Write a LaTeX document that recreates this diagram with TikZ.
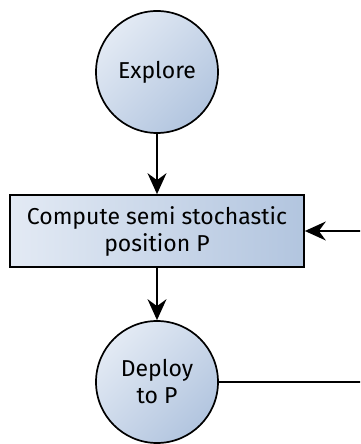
\documentclass[tikz,border=0pt]{standalone}
\usepackage{fontspec}
\setmainfont{Fira Sans}
\usetikzlibrary{arrows.meta}
\definecolor{fillLight}{HTML}{E3EAF4}
\definecolor{fillDark}{HTML}{B2C5DF}
\tikzset{
  x=1pt, y=1pt,
  statenode/.style={circle, draw=black, line width=1.7pt, minimum size=122pt,
    inner sep=0pt, align=center, font=\fontsize{23}{27}\selectfont,
    top color=fillLight, bottom color=fillDark, shading angle=45},
  taskbox/.style={rectangle, draw=black, line width=1.7pt, minimum width=294pt,
    minimum height=72pt, inner sep=0pt, align=center,
    font=\fontsize{23}{27}\selectfont,
    left color=fillLight, right color=fillDark},
  flow/.style={line width=1.7pt, -{Stealth[length=21pt,width=19pt,inset=7pt]}}
}
\begin{document}
\begin{tikzpicture}
  \useasboundingbox (0,0) rectangle (360,444);
  \clip (0,0) rectangle (360,444);
  \node[statenode] (explore) at (157,372) {Explore};
  \node[taskbox] (compute) at (157,213) {Compute semi stochastic\\position P};
  \node[statenode] (deploy) at (157,62) {Deploy\\to P};
  \coordinate (loopcorner) at (380,62);
  \draw[flow] (explore) -- (compute);
  \draw[flow] (compute) -- (deploy);
  \draw[flow] (deploy.east) -- (loopcorner) |- (compute.east);
\end{tikzpicture}
\end{document}
